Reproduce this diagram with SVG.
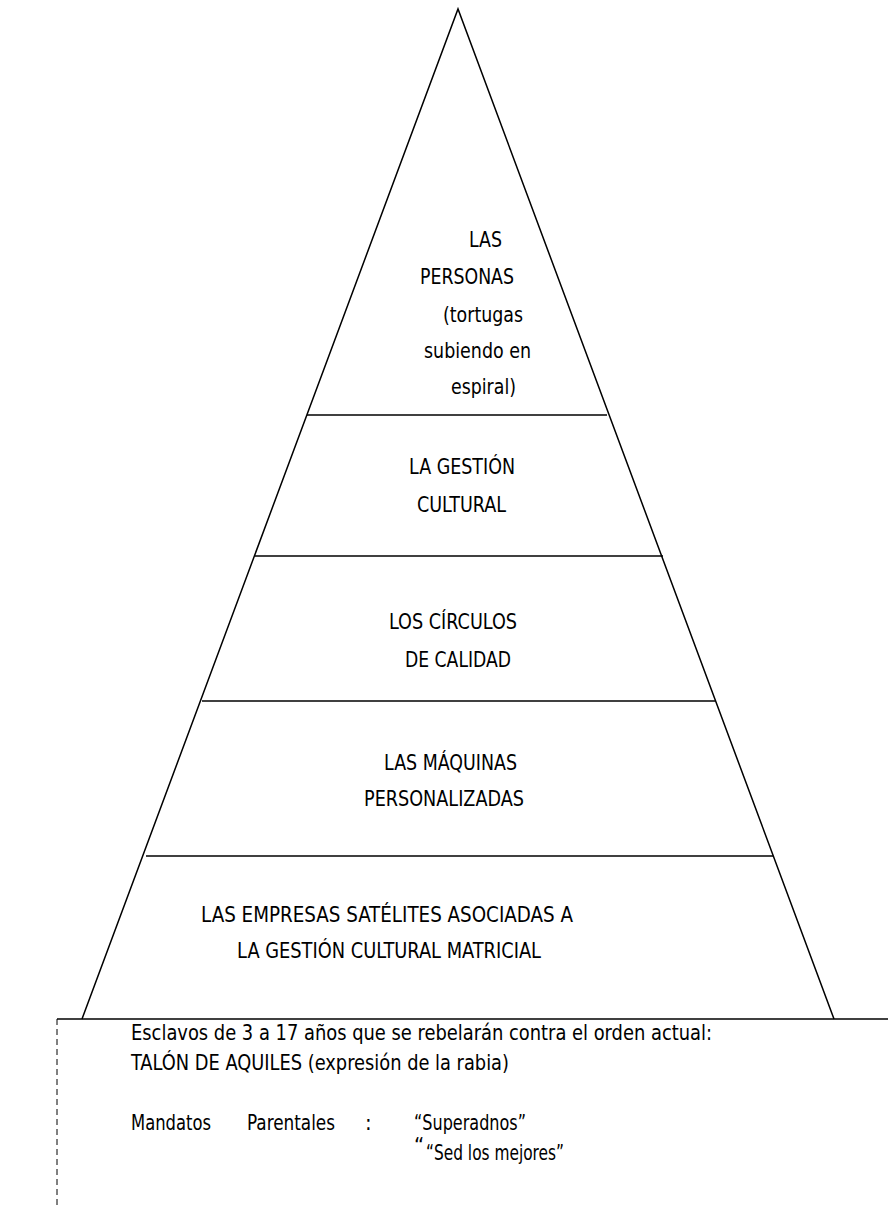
<svg xmlns="http://www.w3.org/2000/svg" width="888" height="1209" viewBox="0 0 888 1209">
<style>
.t{font-family:"DejaVu Sans Condensed","Liberation Sans Narrow","Liberation Sans",sans-serif;font-size:22px;fill:#000}
.ln{stroke:#000;stroke-width:1.5;fill:none}
</style>
<rect width="888" height="1209" fill="#fff"/>
<g id="connectors">
<polyline class="ln" points="82,1019 458,9 834,1019"/>
<line class="ln" x1="307" y1="415" x2="607" y2="415"/>
<line class="ln" x1="255" y1="556" x2="663" y2="556"/>
<line class="ln" x1="202" y1="701" x2="715" y2="701"/>
<line class="ln" x1="146" y1="856" x2="773" y2="856"/>
<line class="ln" x1="57" y1="1019" x2="888" y2="1019"/>
<line x1="57" y1="1019" x2="57" y2="1209" stroke="#000" stroke-width="1" stroke-dasharray="6,4"/>
</g>
<g id="level1">
<text class="t" x="469" y="247" textLength="33" lengthAdjust="spacingAndGlyphs">LAS</text>
<text class="t" x="420" y="284" textLength="94" lengthAdjust="spacingAndGlyphs">PERSONAS</text>
<text class="t" x="443" y="322" textLength="80" lengthAdjust="spacingAndGlyphs">(tortugas</text>
<text class="t" x="424" y="358" textLength="107" lengthAdjust="spacingAndGlyphs">subiendo en</text>
<text class="t" x="451" y="394" textLength="65" lengthAdjust="spacingAndGlyphs">espiral)</text>
</g>
<g id="level2">
<text class="t" x="409" y="474" textLength="106" lengthAdjust="spacingAndGlyphs">LA GESTIÓN</text>
<text class="t" x="417" y="512" textLength="89" lengthAdjust="spacingAndGlyphs">CULTURAL</text>
</g>
<g id="level3">
<text class="t" x="389" y="629" textLength="128" lengthAdjust="spacingAndGlyphs">LOS CÍRCULOS</text>
<text class="t" x="405" y="667" textLength="106" lengthAdjust="spacingAndGlyphs">DE CALIDAD</text>
</g>
<g id="level4">
<text class="t" x="384" y="770" textLength="133" lengthAdjust="spacingAndGlyphs">LAS MÁQUINAS</text>
<text class="t" x="364" y="806" textLength="160" lengthAdjust="spacingAndGlyphs">PERSONALIZADAS</text>
</g>
<g id="level5">
<text class="t" x="201" y="922" textLength="372" lengthAdjust="spacingAndGlyphs">LAS EMPRESAS SATÉLITES ASOCIADAS A</text>
<text class="t" x="237" y="958" textLength="304" lengthAdjust="spacingAndGlyphs">LA GESTIÓN CULTURAL MATRICIAL</text>
</g>
<g id="note">
<text class="t" x="131" y="1040" textLength="581" lengthAdjust="spacingAndGlyphs">Esclavos de 3 a 17 años que se rebelarán contra el orden actual:</text>
<text class="t" x="131" y="1070" textLength="378" lengthAdjust="spacingAndGlyphs">TALÓN DE AQUILES (expresión de la rabia)</text>
<text class="t" x="131" y="1130" textLength="80" lengthAdjust="spacingAndGlyphs">Mandatos</text>
<text class="t" x="247" y="1130" textLength="88" lengthAdjust="spacingAndGlyphs">Parentales</text>
<text class="t" x="365" y="1130">:</text>
<text class="t" x="414" y="1130" textLength="112" lengthAdjust="spacingAndGlyphs">“Superadnos”</text>
<text class="t" x="414" y="1153">“</text>
<text class="t" x="426" y="1160" textLength="138" lengthAdjust="spacingAndGlyphs">“Sed los mejores”</text>
</g>
</svg>
